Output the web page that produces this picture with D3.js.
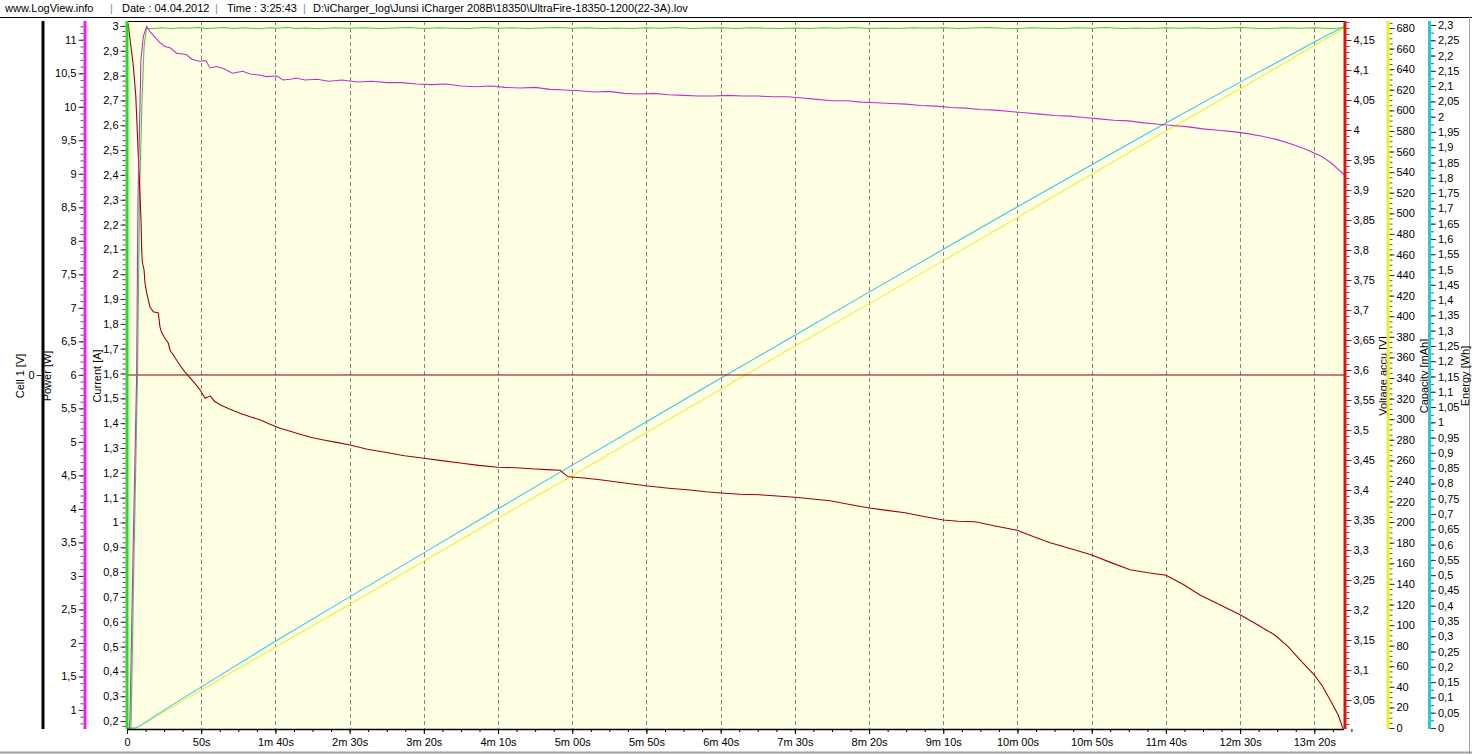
<!DOCTYPE html>
<html><head><meta charset="utf-8">
<script src="https://cdn.jsdelivr.net/npm/d3@7"></script>
<style>
html,body{margin:0;padding:0;background:#fff;overflow:hidden;}
svg{display:block;font-family:"Liberation Sans",Arial,sans-serif;}
</style></head><body>
<svg id="c" width="1472" height="754"></svg>
<script>
// ---------------- DATA ----------------
const headerParts = ["www.LogView.info", "|", "Date : 04.04.2012", "|", "Time : 3:25:43", "|", "D:\\iCharger_log\\Junsi iCharger 208B\\18350\\UltraFire-18350-1200(22-3A).lov"];

const timeTicks = [0,50,100,150,200,250,300,350,400,450,500,550,600,650,700,750,800];
const timeLabels = ["0","50s","1m 40s","2m 30s","3m 20s","4m 10s","5m 00s","5m 50s","6m 40s","7m 30s","8m 20s","9m 10s","10m 00s","10m 50s","11m 40s","12m 30s","13m 20s"];

const cellTicks = [0];
const powerTicks = [1,1.5,2,2.5,3,3.5,4,4.5,5,5.5,6,6.5,7,7.5,8,8.5,9,9.5,10,10.5,11];
const currentTicks = [0.2,0.3,0.4,0.5,0.6,0.7,0.8,0.9,1,1.1,1.2,1.3,1.4,1.5,1.6,1.7,1.8,1.9,2,2.1,2.2,2.3,2.4,2.5,2.6,2.7,2.8,2.9,3];
const voltTicks = [3.05,3.1,3.15,3.2,3.25,3.3,3.35,3.4,3.45,3.5,3.55,3.6,3.65,3.7,3.75,3.8,3.85,3.9,3.95,4,4.05,4.1,4.15];
const capTicks = [0,20,40,60,80,100,120,140,160,180,200,220,240,260,280,300,320,340,360,380,400,420,440,460,480,500,520,540,560,580,600,620,640,660,680];
const energyTicks = [0,0.05,0.1,0.15,0.2,0.25,0.3,0.35,0.4,0.45,0.5,0.55,0.6,0.65,0.7,0.75,0.8,0.85,0.9,0.95,1,1.05,1.1,1.15,1.2,1.25,1.3,1.35,1.4,1.45,1.5,1.55,1.6,1.65,1.7,1.75,1.8,1.85,1.9,1.95,2,2.05,2.1,2.15,2.2,2.25,2.3];

// Cell 1 [V] (flat zero)
const cellData = [[0,0],[820,0]];

// Current [A]  [time s, A]
const currentData = [[0,0.168],[2.7,0.168],[4.7,0.85],[7.1,1.594],[8.4,2.3],[10.1,2.7],[11.5,2.915],[13.1,2.99],
[18,2.99],[24,2.993],[30,2.989],[36,2.993],[42,2.991],[48,2.994],[54,2.99],[60,2.992],[66,2.994],[72,2.99],[78,2.993],[84,2.991],[90,2.989],[96,2.993],[102,2.991],[108,2.994],[114,2.99],[120,2.992],[130,2.989],[140,2.993],[150,2.991],[160,2.993],[170,2.99],[180,2.992],[190,2.994],[200,2.99],[210,2.993],[220,2.991],[230,2.99],[240,2.994],[250,2.991],[260,2.993],[270,2.99],[280,2.992],[290,2.994],[300,2.991],[310,2.993],[320,2.99],[330,2.992],[340,2.99],[350,2.993],[360,2.991],[370,2.994],[380,2.99],[390,2.992],[400,2.993],[410,2.99],[420,2.993],[430,2.991],[440,2.99],[450,2.992],[460,2.99],[470,2.993],[480,2.991],[490,2.994],[500,2.99],[510,2.992],[520,2.99],[530,2.993],[540,2.991],[550,2.993],[560,2.99],[570,2.992],[580,2.994],[590,2.991],[600,2.99],[610,2.993],[620,2.991],[630,2.99],[640,2.993],[650,2.991],[660,2.994],[670,2.99],[680,2.992],[690,2.99],[700,2.993],[710,2.991],[720,2.993],[730,2.99],[740,2.992],[750,2.994],[760,2.991],[770,2.99],[780,2.993],[790,2.991],[800,2.993],[810,2.99],[820,2.992]];

// Power [W]
const powerData = [[0,0.72],[1.6,0.72],[2,0.88],[4,3.26],[6.5,6.0],[7.4,8.62],[9.4,10.7],[11,11.05],[13.3,11.2],[15.5,11.12],[22,10.96],[25.6,10.9],[29,10.88],[33.5,10.8],[40,10.78],[43.6,10.71],[49,10.68],[53,10.69],[56,10.58],[60,10.6],[65,10.57],[71,10.5],[78,10.53],[83,10.49],[90,10.47],[94,10.45],[101,10.46],[105,10.4],[110,10.41],[114,10.43],[120,10.4],[128,10.41],[136,10.38],[145,10.4],[155,10.37],[165,10.38],[175,10.36],[185,10.36],[195,10.34],[205,10.33],[215,10.34],[225,10.31],[235,10.3],[245,10.31],[255,10.29],[265,10.28],[275,10.29],[285,10.26],[295,10.25],[305,10.24],[315,10.22],[325,10.23],[335,10.2],[345,10.19],[355,10.2],[365,10.18],[375,10.17],[385,10.16],[395,10.16],[405,10.17],[415,10.16],[425,10.16],[435,10.15],[445,10.15],[455,10.13],[465,10.11],[475,10.09],[485,10.09],[495,10.07],[505,10.06],[515,10.05],[525,10.04],[535,10.02],[545,10.01],[555,9.99],[565,9.98],[575,9.96],[585,9.95],[595,9.93],[605,9.91],[615,9.89],[625,9.87],[635,9.86],[645,9.84],[655,9.82],[665,9.8],[675,9.79],[685,9.76],[695,9.74],[705,9.72],[715,9.7],[725,9.67],[735,9.65],[745,9.63],[755,9.6],[765,9.56],[775,9.51],[785,9.44],[795,9.36],[805,9.26],[812,9.15],[820,8.99]];

// Voltage accu [V]
const voltData = [[0,4.182],[0.9,4.175],[4.2,4.108],[5.9,4.058],[8.3,3.917],[8.8,3.892],[9.4,3.853],[9.9,3.8],[10.3,3.78],[11.5,3.767],[12.1,3.745],[13.3,3.728],[15.5,3.705],[17.7,3.697],[21.1,3.695],[22.2,3.672],[23.4,3.662],[25.6,3.653],[27.8,3.645],[29,3.633],[31.2,3.625],[35.7,3.608],[39,3.597],[42.5,3.587],[46,3.577],[49.2,3.567],[52.6,3.553],[56,3.557],[59,3.548],[62.7,3.542],[69,3.535],[76.1,3.528],[83,3.522],[89.6,3.517],[96,3.51],[103.1,3.503],[110,3.498],[116.6,3.493],[125,3.487],[133.4,3.483],[142,3.479],[150.3,3.475],[162,3.468],[173.9,3.463],[187,3.457],[200.1,3.453],[212,3.449],[224.4,3.445],[237,3.441],[250,3.438],[262,3.437],[275,3.435],[283,3.434],[291.8,3.433],[297.2,3.422],[308,3.42],[318.7,3.417],[334,3.412],[349.7,3.407],[365,3.403],[379.4,3.4],[390,3.397],[400.3,3.395],[413,3.393],[426.5,3.392],[438,3.39],[450.1,3.388],[462,3.385],[473.7,3.382],[487,3.376],[500,3.37],[512,3.366],[524.3,3.362],[537,3.356],[549.9,3.35],[560,3.348],[571.4,3.347],[585,3.34],[599.7,3.333],[611,3.322],[622,3.312],[636,3.302],[649.6,3.292],[663,3.279],[675.9,3.267],[688,3.262],[700.1,3.258],[712,3.242],[723,3.225],[737,3.208],[750,3.192],[762,3.175],[773.6,3.158],[782,3.14],[790.4,3.117],[799.9,3.092],[805,3.075],[810.7,3.05],[816.1,3.025],[819.4,3.002]];

// Capacity [mAh]
const capData = [[0,0],[6,0],[10,3.3],[20,11.7],[51,37.6],[100,78.5],[150,120],[200,162],[250,204],[300,245],[350,287],[400,329],[450,371],[500,412],[550,454],[600,496],[650,538],[700,580],[750,621],[800,663],[820,680]];

// Energy [Wh]
const energyData = [[0,0],[6,0],[10,0.011],[20,0.043],[30,0.074],[51,0.137],[100,0.284],[150,0.429],[200,0.573],[250,0.717],[300,0.86],[350,1.002],[400,1.144],[450,1.285],[500,1.426],[550,1.566],[600,1.705],[650,1.843],[700,1.979],[750,2.113],[800,2.244],[820,2.295]];

// ---------------- LAYOUT ----------------
const L = 127, R = 1344, T = 21, B = 729;
const svg = d3.select("#c");
const fmt = d => String(d).replace(".", ",");

const x = d3.scaleLinear().domain([0, 820]).range([L, R]);
const yCell = d3.scaleLinear().domain([-1, 1]).range([B, T]);
const yPower = d3.scaleLinear().domain([0.716, 11.28]).range([B, T]);
const yCurrent = d3.scaleLinear().domain([0.168, 3.02]).range([B, T]);
const yVolt = d3.scaleLinear().domain([3.0017, 4.1817]).range([B, T]);
const yCap = d3.scaleLinear().domain([-0.97, 686.8]).range([B, T]);
const yEnergy = d3.scaleLinear().domain([-0.0033, 2.313]).range([B, T]);

// header
const hx = [5, 110, 122, 215, 227, 303, 313];
svg.append("g").selectAll("text").data(headerParts).join("text")
  .attr("x", (d, i) => hx[i]).attr("y", 12)
  .attr("font-size", 11).attr("fill", d => d === "|" ? "#888" : "#000")
  .text(d => d);
svg.append("line").attr("x1", 0).attr("x2", 1472).attr("y1", 17.5).attr("y2", 17.5).attr("stroke", "#000");
svg.append("line").attr("x1", 1469.5).attr("x2", 1469.5).attr("y1", 17).attr("y2", 754).attr("stroke", "#a0a0a0");
svg.append("line").attr("x1", 0).attr("x2", 1472).attr("y1", 752.5).attr("y2", 752.5).attr("stroke", "#a0a0a0").attr("stroke-width", 2);

// plot background
svg.append("rect").attr("x", L).attr("y", T).attr("width", R - L).attr("height", B - T).attr("fill", "#FFFFE3");

// grid
svg.append("g").selectAll("line").data(timeTicks.filter(d => d > 0)).join("line")
  .attr("x1", d => Math.round(x(d)) + 0.5).attr("x2", d => Math.round(x(d)) + 0.5)
  .attr("y1", T).attr("y2", B)
  .attr("stroke", "#808080").attr("stroke-dasharray", "4,3");

// top border
svg.append("line").attr("x1", L).attr("x2", R).attr("y1", T + 0.5).attr("y2", T + 0.5).attr("stroke", "#000");

// clip
svg.append("clipPath").attr("id", "clip").append("rect").attr("x", L).attr("y", T).attr("width", R - L).attr("height", B - T);
const plot = svg.append("g").attr("clip-path", "url(#clip)");

function series(data, ys, color) {
  plot.append("path").datum(data)
    .attr("fill", "none").attr("stroke", color).attr("stroke-width", 1.1)
    .attr("d", d3.line().x(d => x(d[0])).y(d => ys(d[1])));
}
series(capData, yCap, "#eeee3a");
series(energyData, yEnergy, "#38c8ea");
series(cellData, yCell, "#8b0000");
series(currentData, yCurrent, "#44cc44");
series(voltData, yVolt, "#a00000");
series(powerData, yPower, "#c530c5");

// ---------- vertical axes ----------
function vAxis(opts) {
  const { scale, ticks, minor, pos, side, color, label, labelX } = opts;
  const g = svg.append("g");
  const gen = side === "left" ? d3.axisLeft : d3.axisRight;
  const off = side === "left" ? -1.5 : 1.5;
  if (minor) {
    g.append("g").attr("transform", `translate(${pos + off},0)`)
      .call(gen(scale).tickValues(minor).tickSize(3).tickSizeOuter(0).tickFormat(""))
      .call(a => a.select(".domain").remove())
      .call(a => a.selectAll("line").attr("stroke", "#555"));
  }
  g.append("g").attr("transform", `translate(${pos + off},0)`)
    .call(gen(scale).tickValues(ticks).tickSize(5).tickPadding(2).tickSizeOuter(0).tickFormat(fmt))
    .call(a => a.select(".domain").remove())
    .call(a => a.selectAll("line").attr("stroke", "#333"))
    .call(a => a.selectAll("text").attr("font-size", 11).attr("fill", "#000").attr("font-family", "Liberation Sans, Arial, sans-serif"));
  g.append("line").attr("x1", pos).attr("x2", pos).attr("y1", T).attr("y2", B)
    .attr("stroke", color).attr("stroke-width", 3);
  g.append("text").attr("transform", `translate(${labelX},376) rotate(-90)`)
    .attr("text-anchor", "middle").attr("dy", "0.35em").attr("font-size", 11).attr("fill", "#000").text(label);
}
const rng = (a, b, s) => d3.range(Math.round(a / s), Math.round(b / s) + 1).map(k => +(k * s).toFixed(4));

vAxis({ scale: yCell, ticks: cellTicks, minor: null, pos: 43, side: "left", color: "#000", label: "Cell 1 [V]", labelX: 20 });
vAxis({ scale: yPower, ticks: powerTicks, minor: rng(0.8, 11.2, 0.1), pos: 85, side: "left", color: "#ee22ee", label: "Power [W]", labelX: 47 });
vAxis({ scale: yCurrent, ticks: currentTicks, minor: rng(0.18, 3.0, 0.02), pos: 127, side: "left", color: "#22dd22", label: "Current [A]", labelX: 97 });
vAxis({ scale: yVolt, ticks: voltTicks, minor: rng(3.01, 4.18, 0.01), pos: 1345, side: "right", color: "#dd1111", label: "Voltage accu [V]", labelX: 1383 });
vAxis({ scale: yCap, ticks: capTicks, minor: rng(0, 685, 5), pos: 1388, side: "right", color: "#f0f020", label: "Capacity [mAh]", labelX: 1424 });
vAxis({ scale: yEnergy, ticks: energyTicks, minor: rng(0, 2.3, 0.025), pos: 1429.5, side: "right", color: "#22ccdd", label: "Energy [Wh]", labelX: 1465 });

// ---------- time axis ----------
const xa = svg.append("g").attr("transform", `translate(0,${B})`);
xa.append("g").call(d3.axisBottom(x).tickValues(rng(0, 820, 12.5)).tickSize(3).tickSizeOuter(0).tickFormat(""))
  .call(a => a.select(".domain").remove());
xa.append("g").call(d3.axisBottom(x).tickValues(timeTicks).tickSize(5).tickPadding(4).tickSizeOuter(0).tickFormat((d, i) => timeLabels[i]))
  .call(a => a.select(".domain").remove())
  .call(a => a.selectAll("text").attr("font-size", 11).attr("fill", "#000").attr("font-family", "Liberation Sans, Arial, sans-serif"));
xa.append("line").attr("x1", L).attr("x2", R).attr("y1", 0.5).attr("y2", 0.5).attr("stroke", "#000").attr("stroke-width", 1.5);
</script>
</body></html>
